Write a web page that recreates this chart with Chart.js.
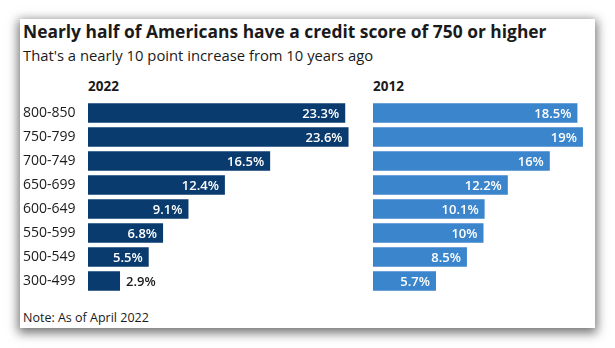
<!DOCTYPE html>
<html lang="en">
<head>
  <meta charset="UTF-8" />
  <title>Credit scores 2022 vs 2012</title>
  <script src="https://cdn.jsdelivr.net/npm/chart.js"></script>
  <style>
    html, body {
      margin: 0;
      padding: 0;
      background: #fff;
    }
    body {
      width: 615px;
      height: 348px;
      position: relative;
      overflow: hidden;
      font-family: "Open Sans", Lato, Arial, sans-serif;
      color: #1a1a1a;
    }
    #card {
      position: absolute;
      left: 20px;
      top: 19px;
      width: 575px;
      height: 309px;
      background: #fff;
      box-shadow: 0 3px 10px 2px rgba(0, 0, 0, 0.55);
    }
    .txt {
      position: absolute;
      white-space: nowrap;
      line-height: 1;
    }
    #title {
      left: 23px;
      top: 23px;
      font-size: 17.4px;
      font-weight: 700;
    }
    #subtitle {
      left: 23px;
      top: 48px;
      font-size: 14.8px;
    }
    .year {
      top: 80px;
      font-size: 13.5px;
      font-weight: 700;
    }
    #note {
      left: 23px;
      top: 312px;
      font-size: 12.5px;
    }
    canvas {
      position: absolute;
    }
  </style>
</head>
<body>
  <div id="card"></div>
  <div class="txt" id="title">Nearly half of Americans have a credit score of 750 or higher</div>
  <div class="txt" id="subtitle">That's a nearly 10 point increase from 10 years ago</div>
  <div class="txt year" style="left:88px">2022</div>
  <div class="txt year" style="left:373px">2012</div>
  <div class="txt" id="note">Note: As of April 2022</div>

  <canvas id="chart2022" width="341" height="192" style="left:23px; top:101px;"></canvas>
  <canvas id="chart2012" width="221" height="192" style="left:373px; top:101px;"></canvas>

  <script>
    const scoreRanges = ['800-850', '750-799', '700-749', '650-699', '600-649', '550-599', '500-549', '300-499'];
    const share2022 = [23.3, 23.6, 16.5, 12.4, 9.1, 6.8, 5.5, 2.9];
    const share2012 = [18.5, 19, 16, 12.2, 10.1, 10, 8.5, 5.7];

    const FONT = '"Open Sans", Lato, Arial, sans-serif';

    // value labels: white inside the bar end, dark outside when the bar is too short
    const barLabels = {
      id: 'barLabels',
      afterDatasetsDraw(chart) {
        const ctx = chart.ctx;
        const meta = chart.getDatasetMeta(0);
        const values = chart.data.datasets[0].data;
        ctx.save();
        ctx.font = '600 13px ' + FONT;
        ctx.textBaseline = 'middle';
        meta.data.forEach((bar, i) => {
          const text = values[i] + '%';
          const w = ctx.measureText(text).width;
          const barW = bar.x - bar.base;
          if (barW > w + 12) {
            ctx.fillStyle = '#ffffff';
            ctx.textAlign = 'right';
            ctx.fillText(text, bar.x - 6, bar.y + 1);
          } else {
            ctx.fillStyle = '#1a1a1a';
            ctx.textAlign = 'left';
            ctx.fillText(text, bar.x + 6, bar.y + 1);
          }
        });
        ctx.restore();
      }
    };

    function makeChart(id, values, color, xMax, showLabels) {
      return new Chart(document.getElementById(id), {
        type: 'bar',
        data: {
          labels: scoreRanges,
          datasets: [{
            data: values,
            backgroundColor: color,
            categoryPercentage: 1,
            barPercentage: 0.82
          }]
        },
        options: {
          indexAxis: 'y',
          responsive: false,
          animation: false,
          layout: { padding: 0 },
          plugins: {
            legend: { display: false },
            tooltip: { enabled: false }
          },
          scales: {
            x: {
              display: false,
              min: 0,
              max: xMax
            },
            y: {
              display: showLabels,
              grid: { display: false },
              border: { display: false },
              ticks: {
                color: '#1a1a1a',
                font: { family: FONT, size: 14 },
                crossAlign: 'far',
                padding: 0
              },
              afterFit(scale) {
                scale.width = showLabels ? 65 : 0;
                scale.paddingTop = 0;
                scale.paddingBottom = 0;
              }
            }
          }
        },
        plugins: [barLabels]
      });
    }

    makeChart('chart2022', share2022, '#0a3b6f', 25, true);
    makeChart('chart2012', share2012, '#3a85cc', 20, false);
  </script>
</body>
</html>
